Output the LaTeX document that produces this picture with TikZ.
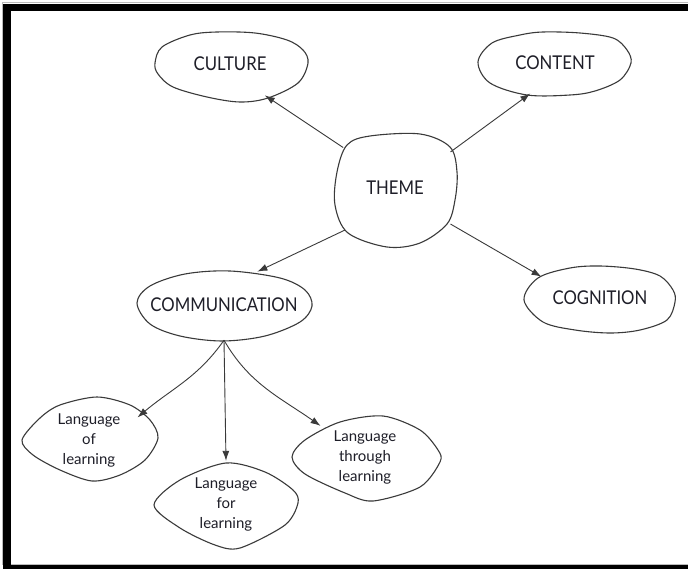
\documentclass[tikz,border=0pt]{standalone}
\usepackage{fontspec}
\setmainfont{Lato}
\newfontfamily\capsfont{Lato}[FakeStretch=0.88]
\usetikzlibrary{arrows.meta,shapes.geometric}
\definecolor{ink}{HTML}{1E1E28}
\definecolor{linegray}{HTML}{3A3A3A}
\definecolor{edgegray}{HTML}{BBBBBB}
\begin{document}
\begin{tikzpicture}[x=1pt,y=-1pt,
  hub/.style={shape=ellipse, inner sep=0pt, text=ink},
  capsnode/.style={hub, font=\capsfont\fontsize{19}{22}\selectfont},
  langnode/.style={hub, align=center, font=\fontsize{15}{20}\selectfont},
  blob/.style={draw=linegray, line width=1.1pt, line join=round},
  arr/.style={draw=linegray, line width=0.9pt, -{Latex[length=10pt,width=7pt]}},
  frame/.style={fill=black, draw=none}
]
\useasboundingbox (0,0) rectangle (688,569);
\fill[white] (0,0) rectangle (688,569);
% frame
\draw[edgegray, line width=1pt] (2,3) -- (688,3);
\draw[edgegray, line width=1pt] (2,3) -- (2,564.5);
\draw[edgegray, line width=1pt] (2,564.5) -- (688,564.5);
\fill[frame] (3,4) rectangle (688,11);
\fill[frame] (3,4) rectangle (11,569);
\fill[frame] (3,565) rectangle (688,569);

% blobs
\draw[blob] plot[smooth cycle, tension=0.55] coordinates {(155,63) (162,47) (190,35) (217,32) (255,33) (287,40) (303,50) (308,63) (298,83) (268,98) (240,102) (207,97) (173,87) (158,74)};
\draw[blob] plot[smooth cycle, tension=0.55] coordinates {(478,62) (492,43) (520,35) (543,32) (580,33) (613,38) (627,50) (631,63) (620,80) (595,91) (570,95) (527,95) (490,83)};
\draw[blob] plot[smooth cycle, tension=0.55] coordinates {(337,172) (347,145) (370,136) (420,134) (450,147) (457,172) (455,200) (447,224) (420,243) (387,247) (348,233) (335,205)};
\draw[blob] plot[smooth cycle, tension=0.55] coordinates {(137,303) (150,286) (185,274) (230,271) (280,278) (305,290) (312,306) (300,322) (265,336) (222,341) (180,336) (150,324)};
\draw[blob] plot[smooth cycle, tension=0.55] coordinates {(524,300) (538,278) (570,268) (600,266) (635,269) (660,276) (673,290) (675,302) (667,320) (640,330) (610,333) (575,330) (543,322)};
\draw[blob] plot[smooth cycle, tension=0.5] coordinates {(22,440) (40,418) (60,405) (97,397) (130,405) (150,420) (158,438) (145,460) (120,475) (92,481) (60,470) (33,455)};
\draw[blob] plot[smooth cycle, tension=0.5] coordinates {(154,505) (180,480) (226,463) (265,472) (293,490) (298,503) (285,525) (240,548) (215,545) (180,528)};
\draw[blob] plot[smooth cycle, tension=0.5] coordinates {(292,457) (305,440) (340,422) (383,416) (420,430) (438,450) (440,462) (420,487) (373,501) (345,493) (305,474)};

% nodes
\node[capsnode, minimum width=152, minimum height=70] (culture) at (230,64) {CULTURE};
\node[capsnode, minimum width=156, minimum height=64] (content) at (555,63) {CONTENT};
\node[capsnode, minimum width=136, minimum height=124] (theme) at (395,188) {THEME};
\node[capsnode, minimum width=176, minimum height=70] (comm) at (224,305) {COMMUNICATION};
\node[capsnode, minimum width=152, minimum height=66] (cog) at (600,298) {COGNITION};
\node[langnode, minimum width=120, minimum height=76] (of) at (89,440) {Language\\of\\learning};
\node[langnode, minimum width=144, minimum height=86] (for) at (226,504) {Language\\for\\learning};
\node[langnode, minimum width=140, minimum height=80] (through) at (365,457) {Language\\through\\learning};

% connectors
\draw[arr] (theme.142) -- (culture.-42);
\draw[arr] (theme.33) -- (content.231);
\draw[arr] (theme.220) -- (comm.45);
\draw[arr] (theme.-33) -- (cog.160);
\draw[arr] (comm.south) to[out=-125,in=40] (of.25);
\draw[arr] (comm.south) -- (for.north);
\draw[arr] (comm.south) to[out=-60,in=145] (through.145);
\end{tikzpicture}
\end{document}
